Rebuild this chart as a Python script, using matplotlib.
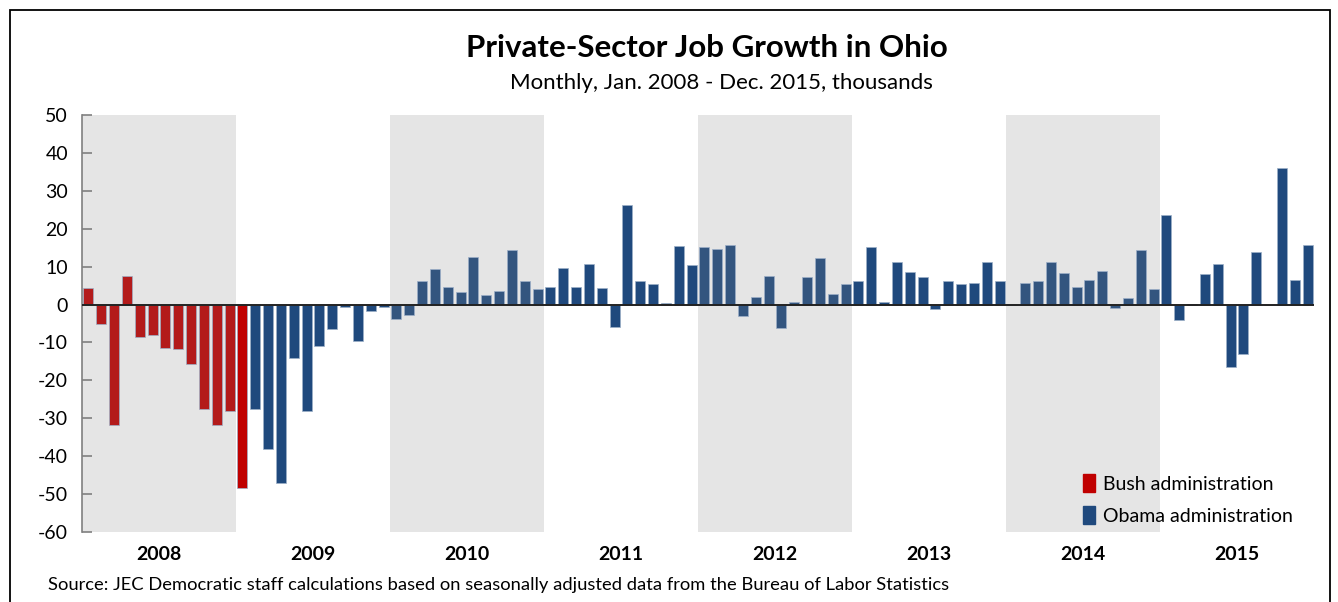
import numpy as np
import matplotlib.pyplot as plt
from matplotlib.patches import Patch, Rectangle

plt.rcParams['font.family'] = ['Lato', 'DejaVu Sans']
plt.rcParams['axes.unicode_minus'] = False

years = ['2008', '2009', '2010', '2011', '2012', '2013', '2014', '2015']

# monthly change, thousands
jobs = [
    4.3, -5.1, -31.7, 7.5, -8.5, -8.0, -11.4, -11.7, -15.6, -27.5, -31.9, -28.0,   # 2008
    -48.5, -27.6, -38.2, -47.0, -14.2, -28.1, -10.9, -6.4, -0.7, -9.6, -1.7, -0.7,  # 2009
    -3.8, -2.7, 6.3, 9.5, 4.6, 3.2, 12.6, 2.6, 3.6, 14.4, 6.2, 4.0,                 # 2010
    4.7, 9.6, 4.6, 10.7, 4.3, -5.9, 26.3, 6.1, 5.4, 0.4, 15.5, 10.4,                # 2011
    15.3, 14.7, 15.6, -3.0, 1.9, 7.6, -6.1, 0.8, 7.2, 12.2, 2.7, 5.4,               # 2012
    6.1, 15.3, 0.8, 11.1, 8.7, 7.2, -1.2, 6.1, 5.4, 5.7, 11.1, 6.3,                 # 2013
    0.0, 5.7, 6.2, 11.1, 8.3, 4.5, 6.6, 8.8, -1.0, 1.8, 14.3, 4.2,                  # 2014
    23.5, -4.0, 0.1, 8.1, 10.6, -16.5, -13.0, 13.9, 0.0, 36.1, 6.4, 15.8,           # 2015
]
bush_months = 13  # Jan 2008 - Jan 2009

x = np.arange(len(jobs))
colors = []
for i in x:
    shaded = (i // 12) % 2 == 0
    if i < 12:
        colors.append('#B31B1B')
    elif i < bush_months:
        colors.append('#C00000')
    elif shaded:
        colors.append('#33557F')
    else:
        colors.append('#1F497D')

fig = plt.figure(figsize=(13.38, 6.02), dpi=100)
ax = fig.add_axes([82 / 1338, 1 - 532 / 602, 1232 / 1338, 417 / 602])

# grey bands on alternate years
for k in range(0, len(years), 2):
    ax.axvspan(12 * k - 0.5, 12 * k + 11.5, color='#E5E5E5', lw=0, zorder=0)

ax.bar(x, jobs, width=0.78, color=colors, edgecolor='#9DB0C8', linewidth=0.5, zorder=2)
ax.axhline(0, color='#222222', lw=1.4, zorder=3)

ax.set_xlim(-0.5, len(jobs) - 0.5)
ax.set_ylim(-60, 50)
ax.set_yticks(np.arange(-60, 51, 10))
ax.set_xticks([])
for s in ['top', 'right', 'bottom']:
    ax.spines[s].set_visible(False)
ax.spines['left'].set_color('#808080')
ax.spines['left'].set_linewidth(1.2)
ax.tick_params(axis='y', direction='in', length=7, width=1.2, color='#808080',
               labelsize=14, pad=10)

for k, yr in enumerate(years):
    ax.text(12 * k + 5.5, -0.053, yr, transform=ax.get_xaxis_transform(),
            ha='center', va='center', fontsize=14, fontweight='bold')

handles = [Patch(color='#C00000', label='Bush administration'),
           Patch(color='#1F497D', label='Obama administration')]
ax.legend(handles=handles, loc='upper left', bbox_to_anchor=(0.8125, 0.138),
          frameon=False, fontsize=14, handlelength=0.6, handleheight=1.0,
          handletextpad=0.45, labelspacing=0.7, borderpad=0, borderaxespad=0)

fig.text(0.528, 1 - 48 / 602, 'Private-Sector Job Growth in Ohio', ha='center', va='center',
         fontsize=22.5, fontweight='bold')
fig.text(0.539, 1 - 83 / 602, 'Monthly, Jan. 2008 - Dec. 2015, thousands', ha='center',
         va='center', fontsize=16)
fig.text(48 / 1338, 1 - 585 / 602,
         'Source: JEC Democratic staff calculations based on seasonally adjusted data from the Bureau of Labor Statistics',
         ha='left', va='center', fontsize=13.2)

# outer frame
fig.patches.append(Rectangle((10 / 1338, -0.1), 1320 / 1338, 1.1 - 10 / 602,
                             transform=fig.transFigure, fill=False,
                             edgecolor='black', lw=1.3))

fig.savefig('out.png', dpi=100)
